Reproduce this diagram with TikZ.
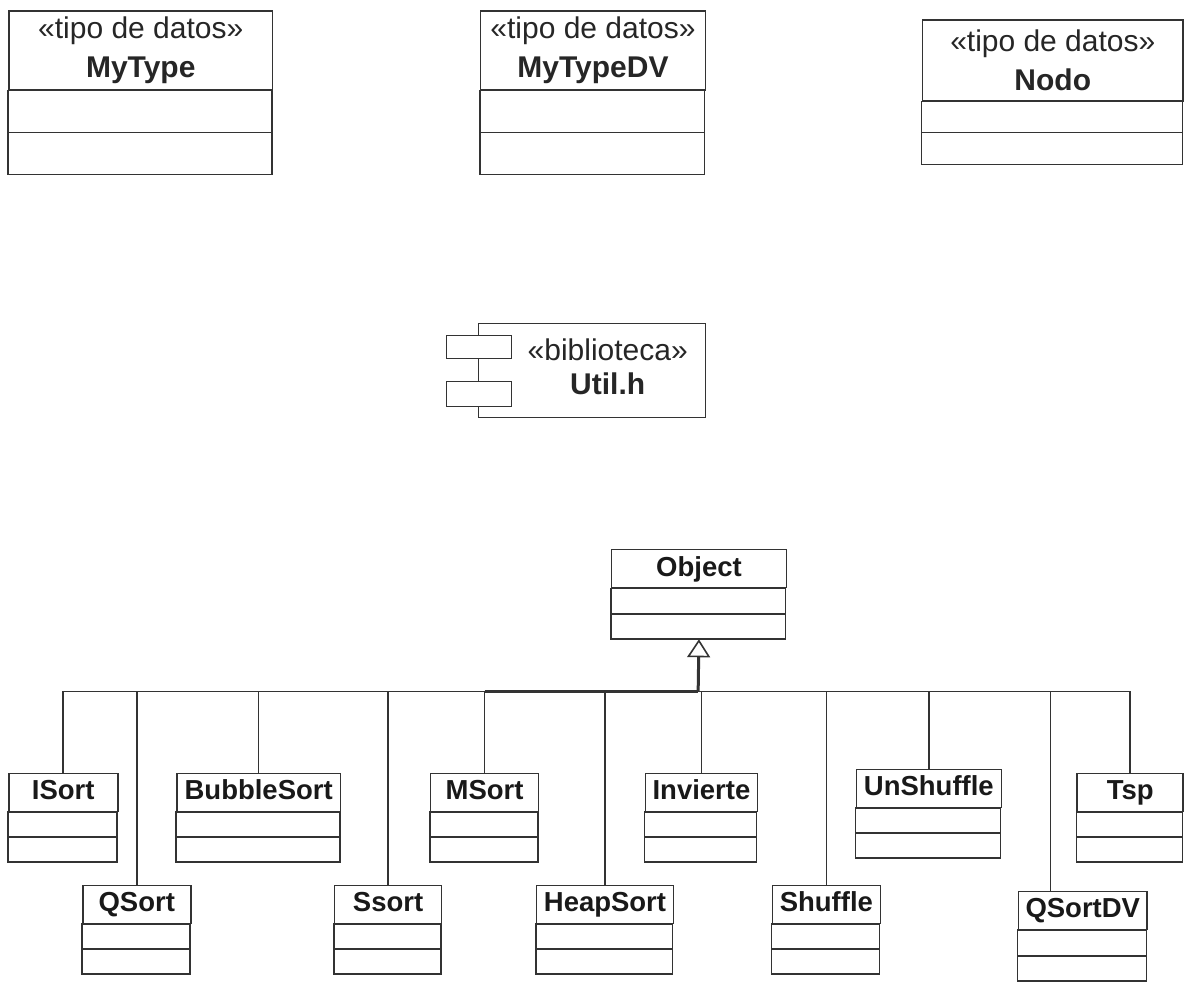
\documentclass[tikz,border=0pt]{standalone}
\usepackage{fontspec}
\setmainfont{Liberation Sans}
\usetikzlibrary{arrows.meta,calc}

\begin{document}
\begin{tikzpicture}[x=1pt,y=-1pt,
  uml line/.style={draw=black!80, line width=1.6pt},
  class head/.style={uml line, anchor=north west, inner sep=0pt, minimum height=38pt, text height=20pt, text depth=5pt, text=black!90, font=\fontsize{27.5}{30}\selectfont\bfseries},
  type head/.style={uml line, anchor=north west, inner sep=0pt, align=center, text=black!85, font=\fontsize{30}{39}\selectfont},
  port/.style={uml line, fill=white, anchor=north west, inner sep=0pt, minimum width=65pt},
  generalization/.style={uml line, line width=3pt, -{Triangle[open, length=18pt, width=23pt, line width=1.6pt]}}]
  % data types
  \node[type head, minimum width=264pt, minimum height=79pt] (mytype) at (8,10) {«tipo de datos»\\\textbf{MyType}};
  \draw[uml line] (mytype.south west) rectangle ++(264,42) ++(-264,0) rectangle ++(264,42);
  \node[type head, minimum width=225pt, minimum height=79pt] (mytypedv) at (480,10) {«tipo de datos»\\\textbf{MyTypeDV}};
  \draw[uml line] (mytypedv.south west) rectangle ++(225,42) ++(-225,0) rectangle ++(225,42);
  \node[type head, minimum width=261pt, minimum height=81pt] (nodo) at (922,19) {«tipo de datos»\\\textbf{Nodo}};
  \draw[uml line] (nodo.south west) rectangle ++(261,31) ++(-261,0) rectangle ++(261,32);
  % library component
  \node[uml line, anchor=north west, minimum width=227pt, minimum height=94pt] (util) at (478,323) {};
  \node[port, minimum height=23pt] (utilport1) at (446,335) {};
  \node[port, minimum height=25pt] (utilport2) at (446,381) {};
  \node[align=center, text=black!85, font=\fontsize{30}{34}\selectfont] (utillabel) at (608,367) {«biblioteca»\\\textbf{Util.h}};
  % base class
  \node[class head, minimum width=175pt] (object) at (611,549) {Object};
  \draw[uml line] (object.south west) rectangle ++(175,26) ++(-175,0) rectangle ++(175,25);
  \coordinate (objectbase) at ($(object.south)+(0,51)$);
  % upper row
  \node[class head, minimum width=109pt] (isort) at (8,773) {ISort};
  \draw[uml line] (isort.south west) rectangle ++(109,25) ++(-109,0) rectangle ++(109,25);
  \node[class head, minimum width=164pt] (bubblesort) at (176,773) {BubbleSort};
  \draw[uml line] (bubblesort.south west) rectangle ++(164,25) ++(-164,0) rectangle ++(164,25);
  \node[class head, minimum width=108pt] (msort) at (430,773) {MSort};
  \draw[uml line] (msort.south west) rectangle ++(108,25) ++(-108,0) rectangle ++(108,25);
  \node[class head, minimum width=112pt] (invierte) at (645,773) {Invierte};
  \draw[uml line] (invierte.south west) rectangle ++(112,25) ++(-112,0) rectangle ++(112,25);
  \node[class head, minimum width=145pt] (unshuffle) at (856,769) {UnShuffle};
  \draw[uml line] (unshuffle.south west) rectangle ++(145,25) ++(-145,0) rectangle ++(145,25);
  \node[class head, minimum width=106pt] (tsp) at (1077,773) {Tsp};
  \draw[uml line] (tsp.south west) rectangle ++(106,25) ++(-106,0) rectangle ++(106,25);
  % lower row
  \node[class head, minimum width=108pt] (qsort) at (82,885) {QSort};
  \draw[uml line] (qsort.south west) rectangle ++(108,25) ++(-108,0) rectangle ++(108,25);
  \node[class head, minimum width=107pt] (ssort) at (334,885) {Ssort};
  \draw[uml line] (ssort.south west) rectangle ++(107,25) ++(-107,0) rectangle ++(107,25);
  \node[class head, minimum width=137pt] (heapsort) at (536,885) {HeapSort};
  \draw[uml line] (heapsort.south west) rectangle ++(137,25) ++(-137,0) rectangle ++(137,25);
  \node[class head, minimum width=108pt] (shuffle) at (772,885) {Shuffle};
  \draw[uml line] (shuffle.south west) rectangle ++(108,25) ++(-108,0) rectangle ++(108,25);
  \node[class head, minimum width=129pt] (qsortdv) at (1018,891) {QSortDV};
  \draw[uml line] (qsortdv.south west) rectangle ++(129,26) ++(-129,0) rectangle ++(129,25);
  % inheritance tree
  \coordinate (hub) at (698.5,692);
  \foreach \cls in {isort,qsort,bubblesort,ssort,msort,heapsort,invierte,shuffle,unshuffle,tsp}
    \draw[uml line] (\cls.north) |- (hub);
  \draw[uml line] ($(qsortdv.north west)+(33,0)$) |- (hub);
  \draw[uml line, line width=3pt] (msort.north |- hub) -- (hub);
  \draw[generalization] (hub) -- (objectbase);
  \useasboundingbox (0,0) rectangle (1184,976);
\end{tikzpicture}
\end{document}
